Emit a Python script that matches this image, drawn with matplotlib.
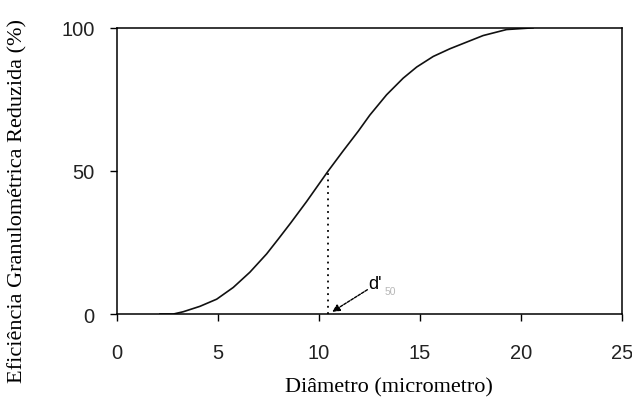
import matplotlib.pyplot as plt

# Reduced grade efficiency curve
diametro = [2.13, 2.79, 3.28, 4.11, 4.94, 5.76, 6.58, 7.41, 8.0, 8.6, 9.39,
            10.46, 11.2, 11.95, 12.52, 13.35, 14.17, 14.84, 15.66, 16.49,
            17.31, 18.13, 18.96, 19.29, 20.6]
eficiencia = [0.0, 0.0, 0.8, 2.7, 5.2, 9.3, 14.6, 21.0, 26.3, 31.8, 39.3,
              50.0, 57.0, 63.9, 69.5, 76.6, 82.4, 86.3, 90.0, 92.7, 95.0,
              97.3, 98.8, 99.4, 100.0]
d50 = 10.46

x_ticks = [0, 5, 10, 15, 20, 25]
y_ticks = [0, 50, 100]

fig = plt.figure(figsize=(6.32, 4.06), dpi=100)
ax = fig.add_axes([0.185, 0.224, 0.799, 0.705])

ax.plot(diametro, eficiencia, color='#111111', lw=1.2,
        solid_joinstyle='round')
ax.plot([d50, d50], [0, 50], color='black', lw=1.3, linestyle=(0, (1, 2.5)))

ax.annotate('', xy=(d50 + 0.2, 0.8), xytext=(12.4, 8.5),
            arrowprops=dict(arrowstyle='-|>', color='black', lw=1,
                            linestyle=(0, (2, 1)), mutation_scale=11,
                            shrinkA=0, shrinkB=0))
ax.text(12.45, 10.8, "d'", fontsize=13, family='Liberation Sans',
        ha='left', va='center')
ax.text(13.25, 8.2, '50', fontsize=7.5, family='Liberation Sans',
        color='#b8b8b8', ha='left', va='center')

ax.set_xlim(0, 25)
ax.set_ylim(0, 100)
ax.set_xticks(x_ticks)
ax.set_yticks(y_ticks)
ax.tick_params(direction='out', length=5, width=1, labelsize=14.5)
ax.tick_params(axis='x', pad=16)
ax.tick_params(axis='y', pad=11)
for lab in ax.get_xticklabels() + ax.get_yticklabels():
    lab.set_family('Liberation Sans')
    lab.set_color('#222222')
for sp in ax.spines.values():
    sp.set_linewidth(1.1)

ax.set_xlabel('Diâmetro (micrometro)', family='Liberation Serif',
              fontsize=16)
ax.set_ylabel('Eficiência Granulométrica Reduzida (%)',
              family='Liberation Serif', fontsize=16)
# labels sit off-centre relative to the plot area
ax.xaxis.set_label_coords(0.539, -0.222)
ax.yaxis.set_label_coords(-0.178, 0.40)

fig.savefig('out.png', dpi=100)
